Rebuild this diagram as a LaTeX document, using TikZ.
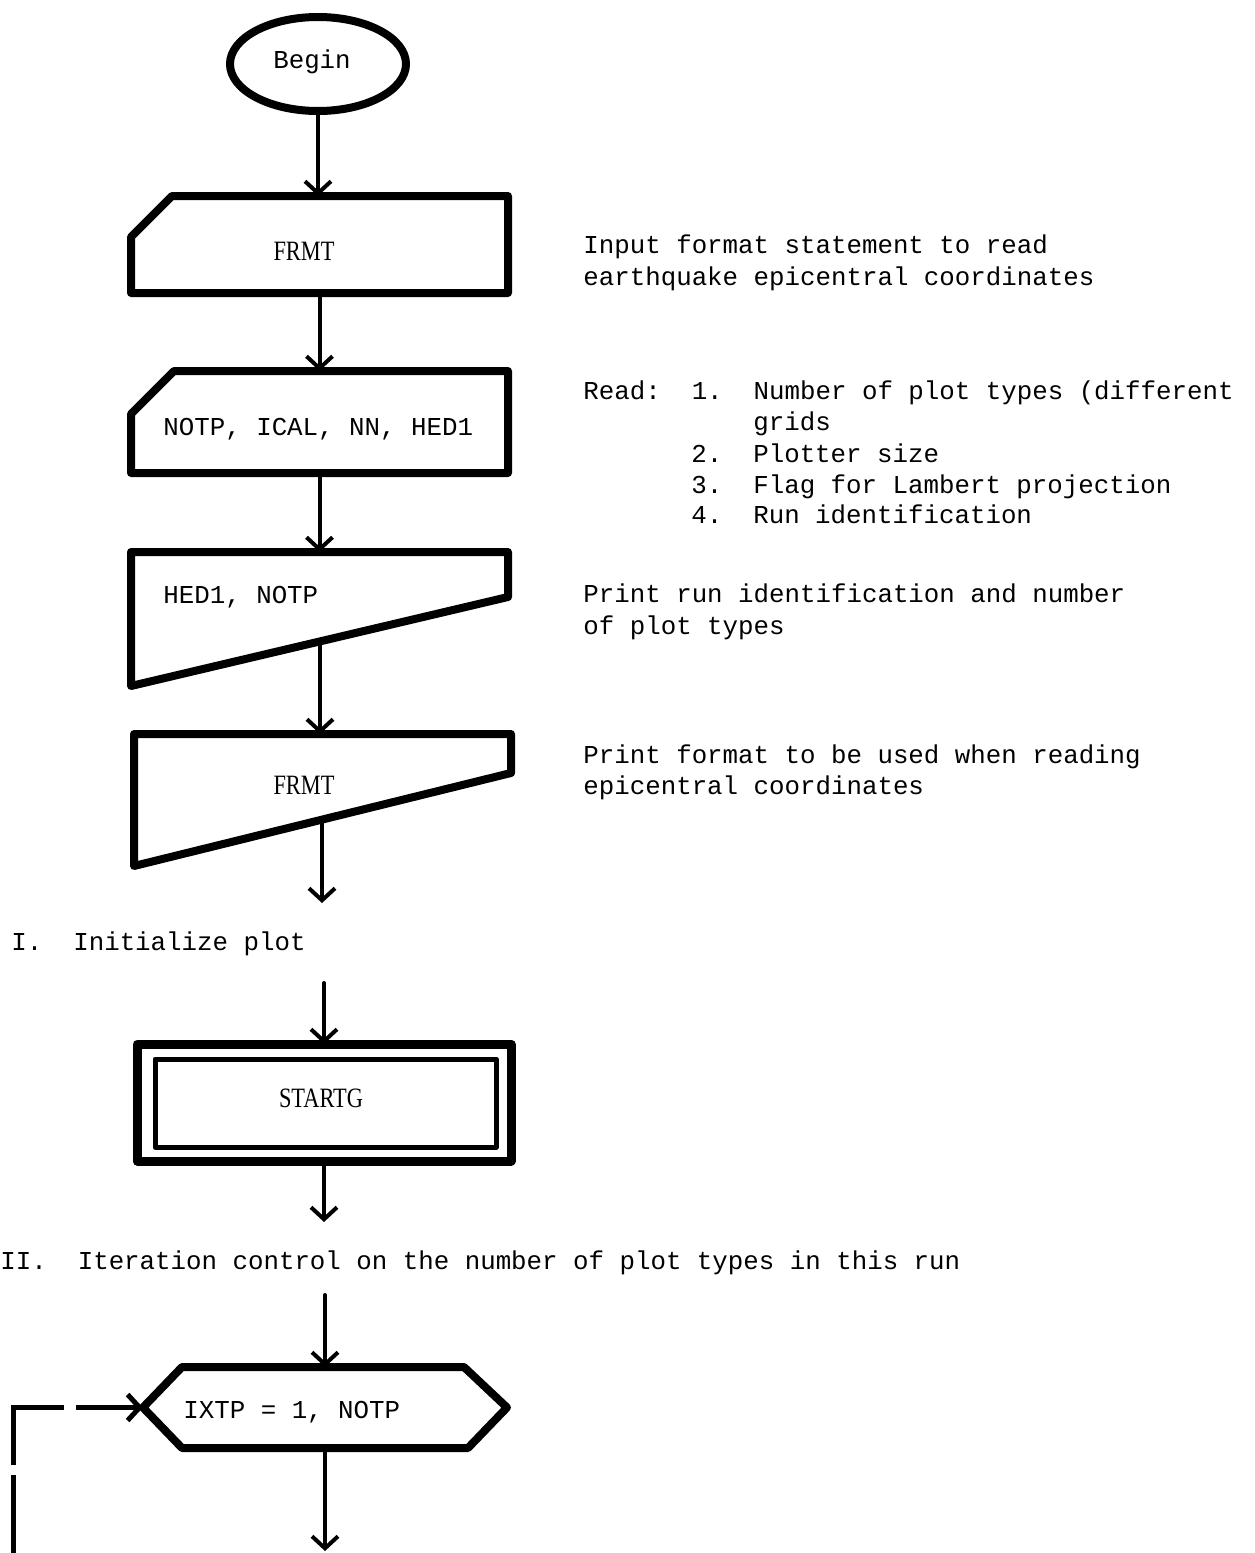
\documentclass[tikz,border=0pt]{standalone}
\usepackage{fontspec}
\newfontfamily\tw{Liberation Mono}
\newfontfamily\lbl[FakeStretch=0.8]{Liberation Serif}
\usetikzlibrary{arrows.meta,shapes.geometric,calc}

\begin{document}
\begin{tikzpicture}[x=0.5pt,y=-0.5pt,
  outline/.style={line width=4pt, line join=round},
  anchorbox/.style={draw=none, rectangle, inner sep=0pt, outer sep=0pt},
  flow/.style={line width=2pt, line cap=round,
    -{Straight Barb[length=6pt,width=13pt]}},
  mono/.style={font=\tw\fontsize{12.9pt}{15.5pt}\selectfont, inner sep=0pt, anchor=base},
  monoL/.style={mono, anchor=base west},
  serif/.style={font=\lbl\fontsize{14pt}{16pt}\selectfont, inner sep=0pt, anchor=base}]

\fill[white] (0,0) rectangle (1254,1553);
\useasboundingbox (0,0) rectangle (1254,1553);

% ---- terminal ----
\node[draw, ellipse, outline, minimum width=88pt, minimum height=47pt, inner sep=0pt] (begin) at (318,64) {};
\node[mono] (beginlbl) at (312,68) {Begin};

% ---- input format card ----
\node[anchorbox, minimum width=188.5pt, minimum height=48.5pt] (in1) at (319.5,244.5) {};
\draw[outline] ($(in1.north west)+(41,0)$) -- (in1.north east) -- (in1.south east)
  -- (in1.south west) -- ($(in1.north west)+(0,41)$) -- cycle;
\node[serif] (in1lbl) at (304,260) {FRMT};

% ---- read card ----
\node[anchorbox, minimum width=188.5pt, minimum height=51pt] (in2) at (319.5,422) {};
\draw[outline] ($(in2.north west)+(43,0)$) -- (in2.north east) -- (in2.south east)
  -- (in2.south west) -- ($(in2.north west)+(0,43)$) -- cycle;
\node[monoL] (in2lbl) at (163,435) {NOTP, ICAL, NN, HED1};

% ---- print document 1 ----
\node[anchorbox, minimum width=188.5pt, minimum height=67pt] (out1) at (319.5,619) {};
\draw[outline] (out1.north west) -- (out1.north east) -- ($(out1.north east)+(0,45)$)
  -- (out1.south west) -- cycle;
\node[monoL] (out1lbl) at (163,603) {HED1, NOTP};
\coordinate (out1x) at (320,641);

% ---- print document 2 ----
\node[anchorbox, minimum width=188.5pt, minimum height=66pt] (out2) at (322.5,800) {};
\draw[outline] (out2.north west) -- (out2.north east) -- ($(out2.north east)+(0,39)$)
  -- (out2.south west) -- cycle;
\node[serif] (out2lbl) at (304,794) {FRMT};
\coordinate (out2x) at (322,820);
\coordinate (sec1end) at (322,903);

% ---- predefined process ----
\coordinate (sec1start) at (324,983);
\node[anchorbox, minimum width=187pt, minimum height=58.5pt] (startg) at (324,1102.5) {};
\draw[line width=4.5pt, line join=round] (startg.north west) rectangle (startg.south east);
\draw[line width=2.5pt, line join=round] ($(startg.north west)+(18,15)$) rectangle ($(startg.south east)+(-15,-14)$);
\node[serif] (startglbl) at (321,1107) {STARTG};
\coordinate (sec2end) at (324,1222);

% ---- loop control ----
\coordinate (sec2start) at (325,1295);
\node[anchorbox, minimum width=182pt, minimum height=40.5pt] (hex) at (325,1407.5) {};
\draw[outline] (hex.west) -- ($(hex.north west)+(39,0)$) -- ($(hex.north east)+(-43,0)$)
  -- (hex.east) -- ($(hex.south east)+(-39,0)$) -- ($(hex.south west)+(39,0)$) -- cycle;
\node[monoL] (hexlbl) at (183,1418) {IXTP = 1, NOTP};
\coordinate (hexout) at (325,1551);
\coordinate (loopin) at (13,1553);

% ---- connectors ----
\draw[flow] (begin.south) -- (begin.south |- in1.north);
\draw[flow] (in1.south) -- (in2.north);
\draw[flow] (in2.south) -- (out1.north);
\draw[flow] (out1x) -- (out1x |- out2.north);
\draw[flow] (out2x) -- (sec1end);
\draw[flow] (sec1start) -- (startg.north);
\draw[flow] (startg.south) -- (sec2end);
\draw[flow] (sec2start) -- (hex.north);
\draw[flow] (hex.south) -- (hexout);
\draw[flow, line width=2.5pt, line cap=butt, dash pattern=on 39pt off 5pt on 54pt off 6pt on 200pt]
  (loopin) |- (hex.west);

% ---- annotations ----
\node[monoL] (n1a) at (583,253) {Input format statement to read};
\node[monoL] (n1b) at (583,285) {earthquake epicentral coordinates};
\node[monoL] (n2a) at (583,399) {Read:~~1.~~Number of plot types (different};
\node[monoL] (n2b) at (753,430) {grids};
\node[monoL] (n2c) at (691,462) {2.~~Plotter size};
\node[monoL] (n2d) at (691,493) {3.~~Flag for Lambert projection};
\node[monoL] (n2e) at (691,523) {4.~~Run identification};
\node[monoL] (n3a) at (583,602) {Print run identification and number};
\node[monoL] (n3b) at (583,634) {of plot types};
\node[monoL] (n4a) at (583,763) {Print format to be used when reading};
\node[monoL] (n4b) at (583,794) {epicentral coordinates};
\node[monoL] (sec1) at (11,950) {I.~~Initialize plot};
\node[monoL] (sec2) at (0,1269) {II.~~Iteration control on the number of plot types in this run};
\end{tikzpicture}
\end{document}
